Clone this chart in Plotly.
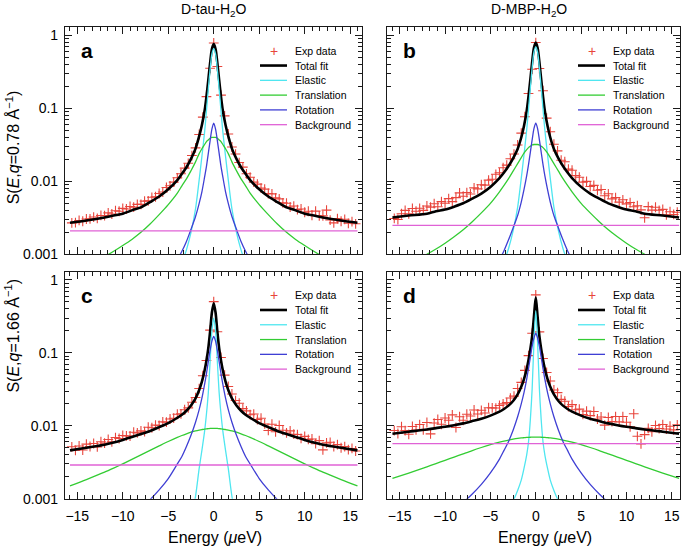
import plotly.graph_objects as go

# ---------------------------------------------------------------- data
# Fitted model curves, read at these energies (µeV, E >= 0); curves are symmetric in E
E_FIT_HALF = [0, 0.2, 0.4, 0.6, 0.8, 1.0, 1.3, 1.6, 2.0, 2.5, 3.0, 3.5, 4.0,
              5, 6, 7, 8, 9, 10, 11, 12, 14, 15.8]

# panel a : D-tau-H2O, q = 0.78
TOTAL_A = [0.765, 0.654, 0.417, 0.243, 0.145, 0.0936, 0.0593, 0.0416, 0.0281, 0.0203, 0.0156, 0.0127, 0.0104,
           0.0078, 0.0062, 0.0052, 0.0044, 0.0040, 0.0036, 0.0034, 0.0032, 0.0029, 0.0027]
ELASTIC_A = [0.66, 0.56, 0.34, 0.18, 0.092, 0.048, 0.022, 0.0105, 0.0042, 0.0020, 0.00115, 0.00075, 0.0005,
             0.0003, 0.0002, 0.00015, 0.0001, 0.00008, 0.00006, 0.00005, 0.00004, 0.00003, 0.00002]
TRANS_A = [0.040, 0.040, 0.039, 0.037, 0.035, 0.032, 0.028, 0.024, 0.0185, 0.0140, 0.0108, 0.0087, 0.0069,
           0.0048, 0.0035, 0.0026, 0.0020, 0.0016, 0.00132, 0.0011, 0.00093, 0.00069, 0.00054]
ROT_A = [0.063, 0.052, 0.036, 0.024, 0.016, 0.0115, 0.0072, 0.0050, 0.0033, 0.0022, 0.0015, 0.0011, 0.00085,
         0.00055, 0.0004, 0.0003, 0.00023, 0.00018, 0.00015, 0.00012, 0.0001, 0.00008, 0.00006]
BG_A = 0.0021

# panel b : D-MBP-H2O, q = 0.78
TOTAL_B = [0.798, 0.678, 0.431, 0.248, 0.146, 0.0927, 0.0575, 0.0399, 0.0278, 0.0207, 0.0162, 0.0132, 0.0111,
           0.0084, 0.0068, 0.0058, 0.0050, 0.0045, 0.0041, 0.0039, 0.0036, 0.0034, 0.0032]
ELASTIC_B = [0.70, 0.59, 0.36, 0.19, 0.097, 0.051, 0.023, 0.011, 0.0044, 0.0021, 0.0012, 0.00078, 0.00052,
             0.0003, 0.0002, 0.00015, 0.0001, 0.00008, 0.00006, 0.00005, 0.00004, 0.00003, 0.00002]
TRANS_B = [0.032, 0.032, 0.0315, 0.0303, 0.029, 0.0272, 0.0243, 0.0212, 0.0175, 0.0138, 0.0109, 0.0088, 0.0072,
           0.0050, 0.0037, 0.0028, 0.00217, 0.00174, 0.00142, 0.00118, 0.0010, 0.00074, 0.00058]
ROT_B = [0.063, 0.053, 0.037, 0.025, 0.017, 0.012, 0.0077, 0.0052, 0.0034, 0.0023, 0.00158, 0.00112, 0.00085,
         0.00055, 0.0004, 0.0003, 0.00023, 0.00018, 0.00015, 0.00012, 0.0001, 0.00008, 0.00006]
BG_B = 0.0025

# panel c : D-tau-H2O, q = 1.66
TOTAL_C = [0.480, 0.357, 0.195, 0.115, 0.0785, 0.0576, 0.0403, 0.0309, 0.0237, 0.0190, 0.0161, 0.0142, 0.0129,
           0.0109, 0.0096, 0.0085, 0.0077, 0.0070, 0.0064, 0.0059, 0.0055, 0.0050, 0.0046]
ELASTIC_C = [0.30, 0.20, 0.075, 0.028, 0.0145, 0.0085, 0.0046, 0.0026, 0.00108, 0.0005, 0.00025, 0.00015, 0.0001,
             0.00005, 0.00003, 0.00002, 0.00002, 0.00001, 0.00001, 0.00001, 0.00001, 0.00001, 0.00001]
TRANS_C = [0.0092, 0.0092, 0.0092, 0.00913, 0.00908, 0.00902, 0.00889, 0.00874, 0.00851, 0.00816, 0.00777, 0.00736, 0.00694,
           0.00609, 0.0053, 0.0046, 0.0040, 0.00346, 0.00301, 0.00263, 0.00231, 0.00183, 0.0015]
ROT_C = [0.168, 0.145, 0.108, 0.075, 0.052, 0.0372, 0.0239, 0.0167, 0.0112, 0.0074, 0.0052, 0.0038, 0.0030,
         0.00189, 0.00132, 0.00097, 0.00074, 0.00059, 0.00048, 0.0004, 0.00033, 0.00024, 0.00019]
BG_C = 0.0029

# panel d : D-MBP-H2O, q = 1.66
TOTAL_D = [0.578, 0.313, 0.169, 0.112, 0.0797, 0.0604, 0.0437, 0.0343, 0.0270, 0.0219, 0.0189, 0.0170, 0.0156,
           0.0138, 0.0125, 0.0116, 0.0108, 0.0102, 0.0097, 0.0093, 0.0089, 0.0083, 0.0078]
ELASTIC_D = [0.38, 0.14, 0.032, 0.012, 0.0060, 0.0040, 0.0026, 0.0018, 0.0013, 0.00093, 0.0007, 0.00055, 0.00045,
             0.0003, 0.0002, 0.00015, 0.0001, 0.00008, 0.00006, 0.00005, 0.00004, 0.00003, 0.00002]
TRANS_D = [0.0070, 0.0070, 0.0070, 0.00697, 0.00695, 0.00693, 0.00687, 0.00681, 0.00671, 0.00655, 0.00637, 0.00617, 0.00596,
           0.00551, 0.00504, 0.00458, 0.00413, 0.00372, 0.00336, 0.00303, 0.00274, 0.00225, 0.0019]
ROT_D = [0.185, 0.16, 0.124, 0.087, 0.061, 0.0438, 0.0285, 0.0200, 0.0133, 0.0087, 0.0061, 0.0046, 0.0035,
         0.00226, 0.00157, 0.00116, 0.00089, 0.0007, 0.00057, 0.00047, 0.0004, 0.00029, 0.00023]
BG_D = 0.0057

# Experimental points
E_EXP = [-15.6, -15.2, -14.8, -14.4, -14.0, -13.6, -13.2, -12.8, -12.4, -12.0,
         -11.6, -11.2, -10.8, -10.4, -10.0, -9.6, -9.2, -8.8, -8.4, -8.0,
         -7.6, -7.2, -6.8, -6.4, -6.0, -5.6, -5.2, -4.8, -4.4, -4.0,
         -3.6, -3.2, -2.8, -2.4, -2.0, -1.6, -1.2, -0.8, -0.4, 0.0,
         0.4, 0.8, 1.2, 1.6, 2.0, 2.4, 2.8, 3.2, 3.6, 4.0,
         4.4, 4.8, 5.2, 5.6, 6.0, 6.4, 6.8, 7.2, 7.6, 8.0,
         8.4, 8.8, 9.2, 9.6, 10.0, 10.4, 10.8, 11.2, 11.6, 12.0,
         12.4, 12.8, 13.2, 13.6, 14.0, 14.4, 14.8, 15.2, 15.6]

EXP_A = [0.0027, 0.00272, 0.00291, 0.00284, 0.00305, 0.00306, 0.00324, 0.0031, 0.00341, 0.00339,
         0.0037, 0.00357, 0.00396, 0.00389, 0.00426, 0.00418, 0.00452, 0.00443, 0.00483, 0.00484,
         0.00536, 0.0054, 0.00605, 0.00615, 0.00682, 0.00714, 0.00825, 0.00869, 0.00977, 0.0112,
         0.0127, 0.0152, 0.0177, 0.0226, 0.0288, 0.0439, 0.076, 0.145, 0.355, 0.79,
         0.375, 0.152, 0.079, 0.0447, 0.0296, 0.0237, 0.0181, 0.0157, 0.0127, 0.0114,
         0.00977, 0.00918, 0.0081, 0.00782, 0.00682, 0.00673, 0.00594, 0.00575, 0.00508, 0.00502,
         0.00445, 0.00459, 0.0041, 0.00418, 0.00377, 0.00389, 0.00343, 0.00391, 0.00337, 0.00336,
         0.00403, 0.00295, 0.0027, 0.00309, 0.00284, 0.00302, 0.00266, 0.0028, 0.00262]

EXP_B = [0.0031, 0.0030, 0.0036, 0.0040, 0.0036, 0.00425, 0.0039, 0.00427, 0.0040, 0.0046,
         0.00444, 0.00494, 0.00449, 0.00528, 0.0050, 0.0058, 0.00528, 0.00598, 0.00696, 0.00625,
         0.00702, 0.00672, 0.00814, 0.00788, 0.00898, 0.00888, 0.0104, 0.0107, 0.0125, 0.0131,
         0.0154, 0.0167, 0.0204, 0.0237, 0.0315, 0.0459, 0.077, 0.16, 0.345, 0.80,
         0.353, 0.175, 0.0737, 0.0479, 0.0323, 0.0262, 0.0195, 0.0186, 0.0147, 0.0142,
         0.012, 0.0114, 0.00976, 0.00999, 0.0085, 0.00882, 0.00755, 0.00773, 0.00634, 0.00675,
         0.00576, 0.00598, 0.00519, 0.00559, 0.00492, 0.00512, 0.00449, 0.00464, 0.00407, 0.00317,
         0.0045, 0.00403, 0.00442, 0.00401, 0.00413, 0.00347, 0.00384, 0.00352, 0.00378]

EXP_C = [0.00515, 0.00461, 0.00528, 0.00466, 0.0056, 0.0052, 0.00572, 0.00514, 0.00605, 0.00578,
         0.0065, 0.00603, 0.0069, 0.0067, 0.00736, 0.00726, 0.00725, 0.00817, 0.00799, 0.00851,
         0.0083, 0.00955, 0.0094, 0.0102, 0.0101, 0.0113, 0.0112, 0.0124, 0.0127, 0.0144,
         0.0146, 0.0166, 0.0176, 0.021, 0.0244, 0.0324, 0.0486, 0.0785, 0.205, 0.504,
         0.195, 0.0864, 0.0495, 0.0346, 0.0273, 0.0222, 0.0204, 0.0172, 0.016, 0.0142,
         0.0145, 0.0122, 0.0127, 0.0106, 0.00864, 0.0105, 0.00827, 0.0101, 0.00869, 0.00798,
         0.00851, 0.00767, 0.00759, 0.00673, 0.00717, 0.00651, 0.0066, 0.00568, 0.00627, 0.00468,
         0.00583, 0.00594, 0.0052, 0.00551, 0.005, 0.00519, 0.0047, 0.00489, 0.00451]

EXP_D = [0.0086, 0.00784, 0.00972, 0.00861, 0.00764, 0.00978, 0.00877, 0.0104, 0.0088, 0.0111,
         0.00774, 0.0109, 0.0122, 0.0105, 0.0128, 0.0119, 0.0141, 0.00948, 0.0133, 0.0119,
         0.0144, 0.0136, 0.0165, 0.0145, 0.0163, 0.015, 0.0177, 0.0176, 0.0175, 0.019,
         0.02, 0.0208, 0.024, 0.0255, 0.0324, 0.0394, 0.0576, 0.0917, 0.186, 0.624,
         0.194, 0.0837, 0.0538, 0.0412, 0.031, 0.0285, 0.023, 0.0217, 0.0184, 0.0195,
         0.0166, 0.0169, 0.0143, 0.0159, 0.0138, 0.0157, 0.0124, 0.0132, 0.0102, 0.013,
         0.0114, 0.0134, 0.0113, 0.0134, 0.0112, 0.0097, 0.0146, 0.00718, 0.00564, 0.00757,
         0.00924, 0.00827, 0.0101, 0.00918, 0.0104, 0.00902, 0.00988, 0.0088, 0.0103]

COLUMN_TITLES = ["D-tau-H<sub>2</sub>O", "D-MBP-H<sub>2</sub>O"]
ROW_TITLES = ["S(<i>E</i>,<i>q</i>=0.78 Å<sup>−1</sup>)", "S(<i>E</i>,<i>q</i>=1.66 Å<sup>−1</sup>)"]
X_TITLE = "Energy (<i>μ</i>eV)"
LEGEND_LABELS = ["Exp data", "Total fit", "Elastic", "Translation", "Rotation", "Background"]
X_TICKS = [-15, -10, -5, 0, 5, 10, 15]
X_TICKTEXT = ["−15", "−10", "−5", "0", "5", "10", "15"]
Y_TICKS = [0.001, 0.01, 0.1, 1]
Y_TICKTEXT = ["0.001", "0.01", "0.1", "1"]

# ---------------------------------------------------------------- style / layout
W, H = 685, 557
FONT = "Liberation Sans, Arial, Helvetica, sans-serif"
AX = "#1a1a1a"
RED = "#e8453c"
CYAN = "#4fe6f0"
GREEN = "#33cc33"
BLUE = "#3f3fd4"
MAGENTA = "#e062d6"

# panel boxes in pixels: left, right, top, bottom ; x range
PANEL_GEOM = [
    dict(box=(65, 362, 27.5, 258), xr=(-16.35, 16.3)),
    dict(box=(387, 680, 27.5, 258), xr=(-16.4, 15.9)),
    dict(box=(65, 362, 275.5, 506), xr=(-16.35, 16.3)),
    dict(box=(387, 680, 275.5, 506), xr=(-16.4, 15.9)),
]
PANEL_DATA = [
    dict(letter="a", exp=EXP_A, total=TOTAL_A, el=ELASTIC_A, tr=TRANS_A, rot=ROT_A, bg=BG_A),
    dict(letter="b", exp=EXP_B, total=TOTAL_B, el=ELASTIC_B, tr=TRANS_B, rot=ROT_B, bg=BG_B),
    dict(letter="c", exp=EXP_C, total=TOTAL_C, el=ELASTIC_C, tr=TRANS_C, rot=ROT_C, bg=BG_C),
    dict(letter="d", exp=EXP_D, total=TOTAL_D, el=ELASTIC_D, tr=TRANS_D, rot=ROT_D, bg=BG_D),
]


def px(x):
    return x / W


def py(y):
    return 1 - y / H


def mirror(half):
    return list(reversed(half[1:])) + list(half)


E_FIT = [-e for e in reversed(E_FIT_HALF[1:])] + list(E_FIT_HALF)
MINOR_Y = [k * 10.0 ** p for p in (-3, -2, -1) for k in range(2, 10)]

fig = go.Figure()
annotations = []
shapes = []

for i, (g, d) in enumerate(zip(PANEL_GEOM, PANEL_DATA)):
    n = i + 1
    xa = "x" if n == 1 else f"x{n}"
    ya = "y" if n == 1 else f"y{n}"
    l, r, t, b = g["box"]

    common = dict(xaxis=xa, yaxis=ya, showlegend=False, hoverinfo="skip")
    fig.add_trace(go.Scatter(x=E_EXP, y=d["exp"], mode="markers", name="Exp data",
                             marker=dict(symbol="cross-thin", size=7,
                                         line=dict(color=RED, width=1.1)), **common))
    fig.add_trace(go.Scatter(x=E_FIT, y=mirror(d["total"]), mode="lines", name="Total fit",
                             line=dict(color="black", width=2.6, shape="spline", smoothing=0.8), **common))
    fig.add_trace(go.Scatter(x=E_FIT, y=mirror(d["el"]), mode="lines", name="Elastic",
                             line=dict(color=CYAN, width=1.3, shape="spline", smoothing=0.8), **common))
    fig.add_trace(go.Scatter(x=E_FIT, y=mirror(d["tr"]), mode="lines", name="Translation",
                             line=dict(color=GREEN, width=1.3, shape="spline", smoothing=0.8), **common))
    fig.add_trace(go.Scatter(x=E_FIT, y=mirror(d["rot"]), mode="lines", name="Rotation",
                             line=dict(color=BLUE, width=1.3, shape="spline", smoothing=0.8), **common))
    fig.add_trace(go.Scatter(x=[E_FIT[0], E_FIT[-1]], y=[d["bg"], d["bg"]], mode="lines", name="Background",
                             line=dict(color=MAGENTA, width=1.3), **common))

    axis_common = dict(showline=True, mirror="ticks", linecolor=AX, linewidth=1.2,
                       ticks="inside", ticklen=7, tickwidth=1, tickcolor=AX,
                       showgrid=False, zeroline=False, ticklabeloverflow="allow",
                       tickfont=dict(family=FONT, size=14, color="black"))
    fig.layout[f"xaxis{'' if n == 1 else n}"] = dict(
        domain=[px(l), px(r)], range=list(g["xr"]), anchor=ya,
        tickmode="array", tickvals=X_TICKS, ticktext=X_TICKTEXT,
        showticklabels=n in (3, 4), ticklabelstandoff=4,
        minor=dict(ticks="inside", ticklen=4, tickwidth=1, tickcolor=AX,
                   tickmode="linear", tick0=0, dtick=5 / 6, showgrid=False),
        **axis_common)
    fig.layout[f"yaxis{'' if n == 1 else n}"] = dict(
        domain=[py(b), py(t)], type="log", range=[-3, 0.115], anchor=xa,
        tickmode="array", tickvals=Y_TICKS, ticktext=Y_TICKTEXT,
        showticklabels=n in (1, 3), ticklabelstandoff=3,
        minor=dict(ticks="inside", ticklen=4, tickwidth=1, tickcolor=AX,
                   tickmode="array", tickvals=MINOR_Y, showgrid=False),
        **axis_common)

    # panel letter
    annotations.append(dict(text=f"<b>{d['letter']}</b>", xref="paper", yref="paper",
                            x=px(l + 14), y=py(t + 24), xanchor="left", yanchor="middle",
                            showarrow=False, font=dict(family=FONT, size=21, color="black")))

    # legend (drawn inside the panel, upper right)
    text_left = r - 69
    rows = [24, 39, 54, 69, 84, 99]
    styles = [None, ("black", 2.6), (CYAN, 1.3), (GREEN, 1.3), (BLUE, 1.3), (MAGENTA, 1.3)]
    for lab, off, st in zip(LEGEND_LABELS, rows, styles):
        yy = t + off
        annotations.append(dict(text=lab, xref="paper", yref="paper", x=px(text_left), y=py(yy),
                                xanchor="left", yanchor="middle", showarrow=False,
                                font=dict(family=FONT, size=10.5, color="black")))
        if st is None:
            annotations.append(dict(text="+", xref="paper", yref="paper", x=px(text_left - 19.5),
                                    y=py(yy), xanchor="center", yanchor="middle", showarrow=False,
                                    font=dict(family=FONT, size=14, color=RED)))
        else:
            shapes.append(dict(type="line", xref="paper", yref="paper",
                               x0=px(text_left - 33), x1=px(text_left - 6), y0=py(yy), y1=py(yy),
                               line=dict(color=st[0], width=st[1])))

# column titles
for title, xc in zip(COLUMN_TITLES, [213.5, 529]):
    annotations.append(dict(text=title, xref="paper", yref="paper", x=px(xc), y=py(10),
                            xanchor="center", yanchor="middle", showarrow=False,
                            font=dict(family=FONT, size=14, color="black")))
# row (y-axis) titles
for title, yc in zip(ROW_TITLES, [150, 341]):
    annotations.append(dict(text=title, xref="paper", yref="paper", x=px(12.5), y=py(yc),
                            xanchor="center", yanchor="middle", textangle=-90, showarrow=False,
                            font=dict(family=FONT, size=16, color="black")))
# x-axis titles
for xc in [215, 545]:
    annotations.append(dict(text=X_TITLE, xref="paper", yref="paper", x=px(xc), y=py(545),
                            xanchor="center", yanchor="middle", showarrow=False,
                            font=dict(family=FONT, size=16, color="black")))

fig.update_layout(width=W, height=H, margin=dict(l=0, r=0, t=0, b=0),
                  paper_bgcolor="white", plot_bgcolor="white",
                  font=dict(family=FONT, color="black"),
                  annotations=annotations, shapes=shapes)

# the page's default 8px body margin would push the 685x557 figure out of the window
fig.write_html("out.html", config={"displayModeBar": False},
               post_script="document.body.style.margin='0px';document.body.style.overflow='hidden';")
